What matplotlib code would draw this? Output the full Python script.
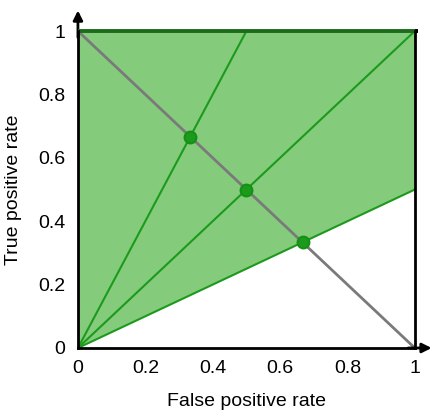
import matplotlib
matplotlib.use("Agg")
import matplotlib.pyplot as plt
import numpy as np

plt.rcParams['font.family'] = ['Liberation Sans', 'DejaVu Sans']

# Data
region_x = [0, 0, 1, 1]
region_y = [0, 1, 1, 0.5]
ray_slopes = [2.0, 1.0, 0.5]
diag_x = [0, 1]
diag_y = [1, 0]
ticks = [0, 0.2, 0.4, 0.6, 0.8, 1]
tick_labels = ['0', '0.2', '0.4', '0.6', '0.8', '1']

fig = plt.figure(figsize=(4.33, 4.17), dpi=100)
ax = fig.add_axes([0.180, 0.1655, 0.778, 0.760])
ax.set_xlim(0, 1)
ax.set_ylim(0, 1)

fill_c = '#84cc7c'
line_c = '#1c9a1c'

ax.fill(region_x, region_y, color=fill_c, lw=0, zorder=1)
ax.plot(diag_x, diag_y, color='#7a7a7a', lw=2, zorder=2, solid_capstyle='butt')

for s in ray_slopes:
    xe = min(1.0, 1.0 / s)
    ax.plot([0, xe], [0, s * xe], color=line_c, lw=1.5, zorder=3)
    # intersection with diagonal x + y = 1
    xi = 1.0 / (1.0 + s)
    ax.plot([xi], [s * xi], 'o', ms=8.5, color=line_c, mec='#159015', mew=1.5, zorder=4, clip_on=False)

# Top and right borders
ax.plot([0, 1], [1, 1], color='#1d6a1d', lw=2.8, zorder=5, clip_on=False, solid_capstyle='butt')
ax.plot([1, 1.01], [1, 1], color='black', lw=2.8, zorder=5, clip_on=False, solid_capstyle='butt')
ax.plot([1, 1], [0, 1], color='black', lw=2, zorder=5, clip_on=False)

for sp in ['top', 'right']:
    ax.spines[sp].set_visible(False)
for sp in ['left', 'bottom']:
    ax.spines[sp].set_linewidth(2)
    ax.spines[sp].set_zorder(6)

# Arrows
ax.annotate('', xy=(0, 1.065), xytext=(0, 0.98), xycoords='data',
            arrowprops=dict(arrowstyle='-|>', color='black', lw=2, mutation_scale=14,
                            shrinkA=0, shrinkB=0), annotation_clip=False)
ax.annotate('', xy=(1.05, 0), xytext=(0.98, 0), xycoords='data',
            arrowprops=dict(arrowstyle='-|>', color='black', lw=2, mutation_scale=14,
                            shrinkA=0, shrinkB=0), annotation_clip=False)

ax.set_xticks(ticks)
ax.set_xticklabels(tick_labels)
ax.set_yticks(ticks)
ax.set_yticklabels(tick_labels)
ax.tick_params(length=0, labelsize=14, pad=9)

ax.set_xlabel('False positive rate', fontsize=14, labelpad=11)
ax.set_ylabel('True positive rate', fontsize=14, labelpad=12)

fig.savefig('out.png', dpi=100)
